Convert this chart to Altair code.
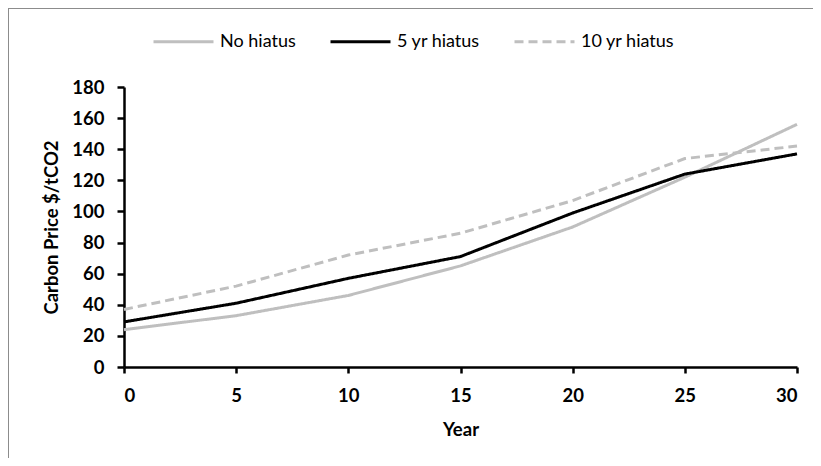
import altair as alt
import pandas as pd

years = [0, 5, 10, 15, 20, 25, 30]
no_hiatus = [24, 33, 46, 65, 90, 122, 156]
five_yr = [29, 41, 57, 71, 99, 124, 137]
ten_yr = [37, 52, 72, 86, 107, 134, 142]

series_names = ["No hiatus", "5 yr hiatus", "10 yr hiatus"]
series_colors = ["#BFBFBF", "#000000", "#BFBFBF"]
series_dash = [[1, 0], [1, 0], [9, 5]]

rows = []
for name, vals in zip(series_names, [no_hiatus, five_yr, ten_yr]):
    for y, v in zip(years, vals):
        rows.append({"Year": y, "Price": v, "Series": name})
df = pd.DataFrame(rows)

FONT = "Lato"
W, H = 673, 280
PAD_L, PAD_T, PAD_R, PAD_B = 116, 79, 16, 91

lines = alt.Chart(df).mark_line(strokeWidth=3).encode(
    x=alt.X("Year:Q", title="Year",
            scale=alt.Scale(domain=[0, 30], nice=False),
            axis=alt.Axis(values=years, grid=False, tickSize=6,
                          labelPadding=13, titlePadding=16)),
    y=alt.Y("Price:Q", title="Carbon Price $/tCO2",
            scale=alt.Scale(domain=[0, 180], nice=False),
            axis=alt.Axis(values=list(range(0, 181, 20)), grid=False,
                          tickSize=7, labelPadding=13, titlePadding=10)),
    color=alt.Color("Series:N", title=None,
                    scale=alt.Scale(domain=series_names, range=series_colors),
                    legend=alt.Legend(orient="none", direction="horizontal",
                                      legendX=28, legendY=-77,
                                      symbolType="stroke", symbolSize=3600,
                                      symbolStrokeWidth=3, labelOffset=5,
                                      columnPadding=28, labelFontSize=18,
                                      labelFont=FONT, labelColor="#000000")),
    strokeDash=alt.StrokeDash("Series:N", title=None,
                              scale=alt.Scale(domain=series_names, range=series_dash)),
    order=alt.Order("Series:N"),
)

one = pd.DataFrame({"a": [0]})
border_top = alt.Chart(one).mark_rule(stroke="#8C8C8C", strokeWidth=2, clip=False).encode(
    x=alt.value(-PAD_L), x2=alt.value(W + 200), y=alt.value(-PAD_T),
)
border_left = alt.Chart(one).mark_rule(stroke="#8C8C8C", strokeWidth=2, clip=False).encode(
    x=alt.value(-PAD_L), y=alt.value(-PAD_T), y2=alt.value(H + 200),
)

chart = alt.layer(border_top, border_left, lines).properties(
    width=W, height=H,
    padding={"left": PAD_L, "top": PAD_T, "right": PAD_R, "bottom": PAD_B},
    autosize=alt.AutoSizeParams(type="none"),
).configure(background="transparent").configure_view(stroke=None).configure_axis(
    domainColor="#000000", domainWidth=2.5, tickColor="#000000", tickWidth=2.5,
    labelFont=FONT, labelFontSize=18.5, labelFontWeight="bold", labelColor="#000000",
    titleFont=FONT, titleFontSize=18.5, titleFontWeight="bold", titleColor="#000000",
)

chart.save("out.html", embed_options={"renderer": "svg", "actions": False})
